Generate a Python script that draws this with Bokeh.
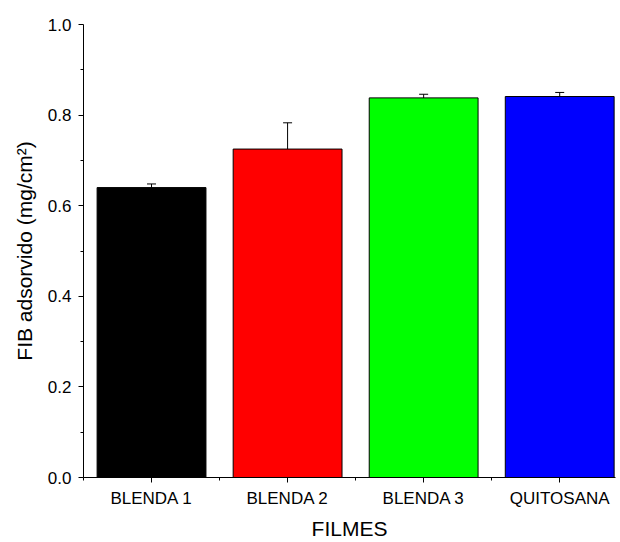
from bokeh.plotting import figure
from bokeh.models import ColumnDataSource, FixedTicker, Range1d, Whisker, TeeHead
from bokeh.embed import file_html
from bokeh.resources import INLINE

categories = ["BLENDA 1", "BLENDA 2", "BLENDA 3", "QUITOSANA"]
values = [0.640, 0.725, 0.838, 0.841]
errors = [0.008, 0.058, 0.008, 0.009]
colors = ["#000000", "#FF0000", "#00FF00", "#0000FF"]
y_ticks = [0.0, 0.2, 0.4, 0.6, 0.8, 1.0]
y_tick_labels = ["0.0", "0.2", "0.4", "0.6", "0.8", "1.0"]

xpos = list(range(len(categories)))
src = ColumnDataSource(dict(
    x=xpos, top=values, color=colors,
    upper=[v + e for v, e in zip(values, errors)],
    lower=[v - e for v, e in zip(values, errors)],
))

FONT = "Liberation Sans"

p = figure(width=620, height=542, output_backend="svg", toolbar_location=None,
           x_range=Range1d(-0.5, 3.41), y_range=Range1d(0, 1.0),
           min_border_left=83, min_border_right=5, min_border_top=24, min_border_bottom=64)
p.outline_line_color = None
p.xgrid.visible = False
p.ygrid.visible = False

p.vbar(x="x", top="top", width=0.8, bottom=0, fill_color="color",
       line_color="black", line_width=1, source=src)

w = Whisker(base="x", upper="upper", lower="lower", source=src,
            line_color="black", line_width=1,
            upper_head=TeeHead(size=9, line_color="black", line_width=1),
            lower_head=TeeHead(size=9, line_color="black", line_width=1))
p.add_layout(w)

# x axis
p.xaxis.ticker = FixedTicker(ticks=xpos, minor_ticks=[-0.5, 0.5, 1.5, 2.5])
p.xaxis.major_label_overrides = {i: c for i, c in enumerate(categories)}
p.xaxis.axis_label = "FILMES"

# y axis
p.yaxis.ticker = FixedTicker(ticks=y_ticks,
                             minor_ticks=[0.1, 0.3, 0.5, 0.7, 0.9])
p.yaxis.major_label_overrides = {t: l for t, l in zip(y_ticks, y_tick_labels)}
p.yaxis.axis_label = "FIB adsorvido (mg/cm²)"

for ax in (p.xaxis[0], p.yaxis[0]):
    ax.axis_line_color = "black"
    ax.axis_line_width = 1
    ax.major_tick_line_color = "black"
    ax.minor_tick_line_color = "black"
    ax.major_tick_in = 0
    ax.major_tick_out = 5
    ax.minor_tick_in = 0
    ax.minor_tick_out = 3
    ax.major_label_text_font = FONT
    ax.major_label_text_font_size = "17px"
    ax.major_label_text_color = "black"
    ax.axis_label_text_font = FONT
    ax.axis_label_text_font_size = "21px"
    ax.axis_label_text_font_style = "normal"
    ax.axis_label_text_color = "black"

p.xaxis.major_label_standoff = 6
p.xaxis.axis_label_standoff = 6
p.yaxis.major_label_standoff = 7
p.yaxis.axis_label_standoff = 9

open("out.html", "w").write(file_html(p, INLINE))
